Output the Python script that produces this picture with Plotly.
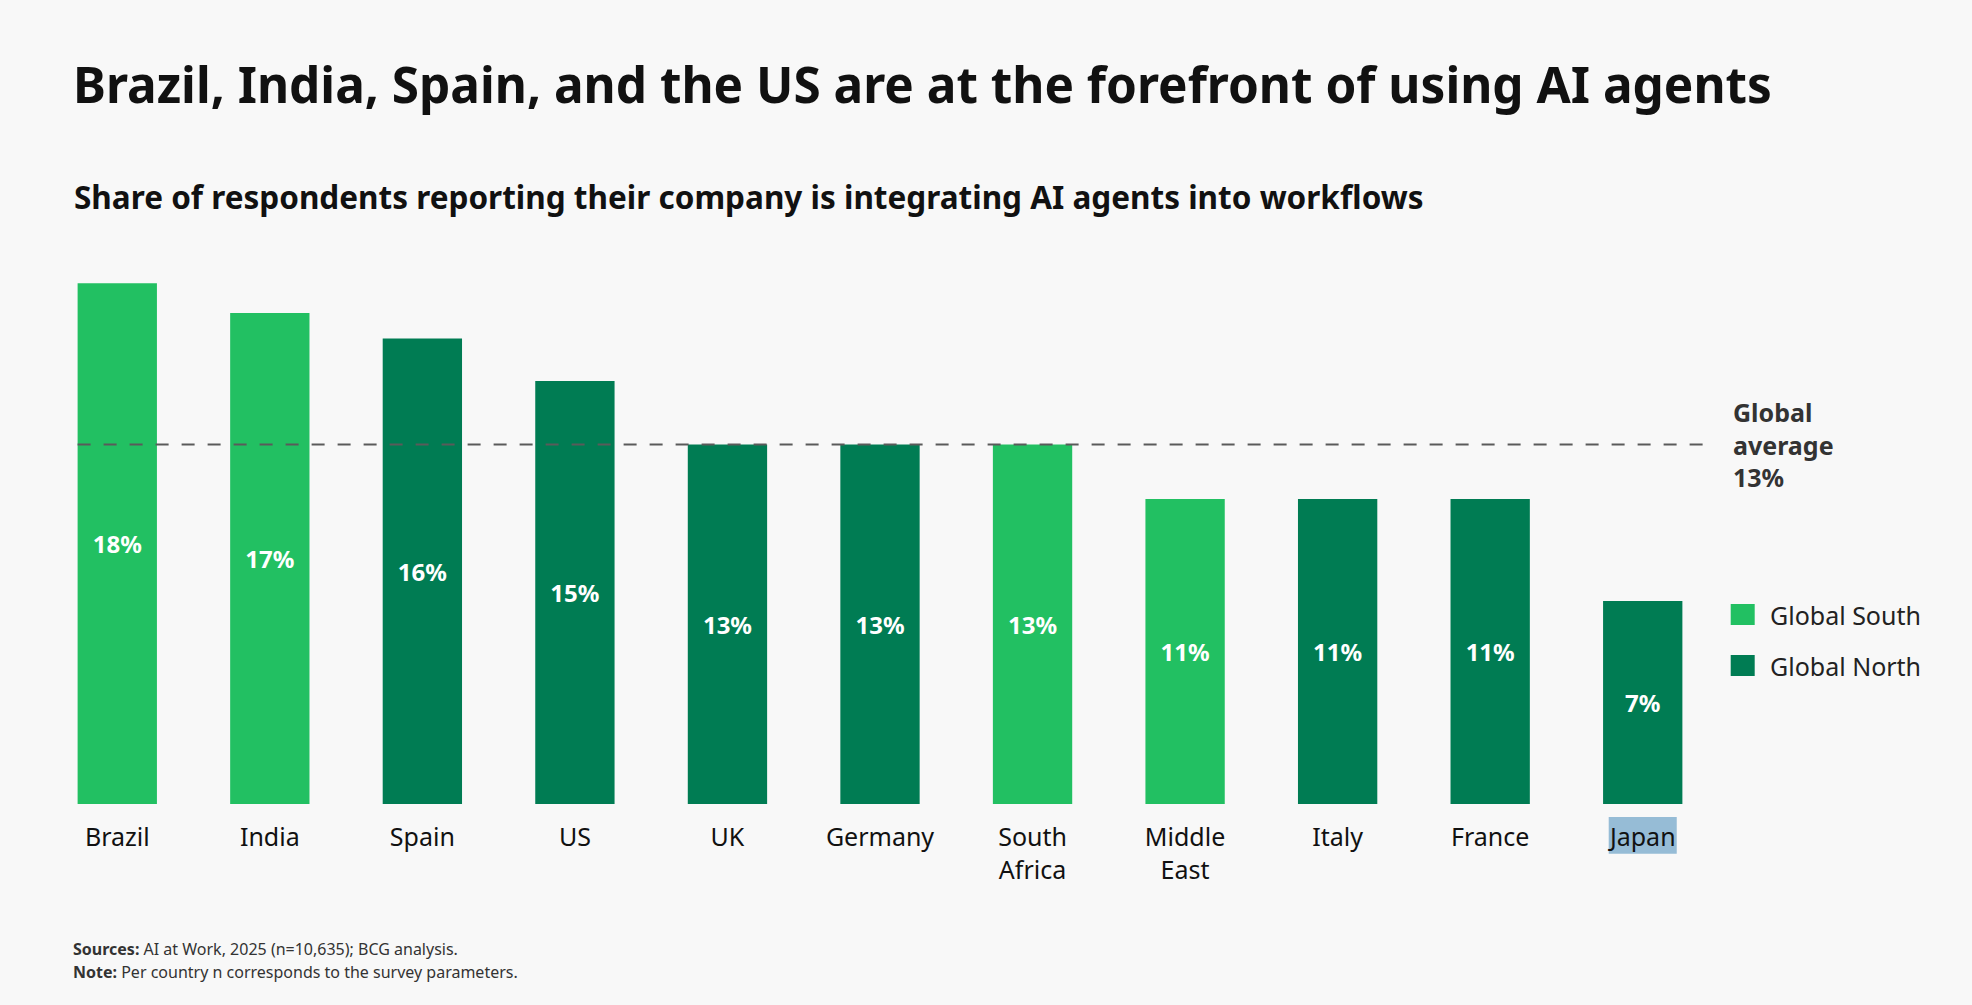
import plotly.graph_objects as go

# chart data
countries = ["Brazil", "India", "Spain", "US", "UK", "Germany", "South<br>Africa",
             "Middle<br>East", "Italy", "France", "Japan"]
share = [18.4, 17.35, 16.45, 14.95, 12.7, 12.7, 12.7, 10.78, 10.78, 10.78, 7.17]
region = ["Global South", "Global South", "Global North", "Global North", "Global North",
          "Global North", "Global South", "Global South", "Global North", "Global North",
          "Global North"]
global_avg = 12.7
avg_label = "Global<br>average<br>13%"
groups = ["Global South", "Global North"]

FONT = "Noto Sans"
BG = "#F8F8F8"
colors = {"Global South": "#22C062", "Global North": "#007C53"}

fig = go.Figure()

fig.add_trace(go.Bar(
    x=countries,
    y=share,
    marker=dict(color=[colors[r] for r in region], line=dict(width=0)),
    text=[f"{round(v)}%" for v in share],
    textposition="inside",
    insidetextanchor="middle",
    textangle=0,
    constraintext="none",
    textfont=dict(family=FONT, size=24, color="white", weight="bold"),
    showlegend=False,
    hoverinfo="skip",
))

# dashed global average line
fig.add_shape(type="line", xref="x", yref="y", x0=-0.26, x1=10.41,
              y0=global_avg, y1=global_avg, layer="above",
              line=dict(color="#5A5A5A", width=2, dash="13px,13px"))

fig.add_annotation(xref="paper", yref="y", x=(1731 - 41.3) / 1678, y=global_avg,
                   text=avg_label, showarrow=False, align="left",
                   xanchor="left", yanchor="middle",
                   font=dict(family=FONT, size=25, color="#333333", weight="bold"))

# legend drawn by hand so the swatches can be large
for i, g in enumerate(groups):
    yc = (804 - (614.5 + 51 * i)) / 566
    fig.add_shape(type="rect", xref="paper", yref="paper",
                  x0=(1731 - 41.3) / 1678, x1=(1755 - 41.3) / 1678,
                  y0=yc - 10.5 / 566, y1=yc + 10.5 / 566,
                  fillcolor=colors[g], line=dict(width=0))
    fig.add_annotation(xref="paper", yref="paper", x=(1768 - 41.3) / 1678, y=yc,
                       text=g, showarrow=False, xanchor="left", yanchor="middle",
                       font=dict(family=FONT, size=25, color="#222222"))

# the blue selection highlight behind "Japan"
fig.add_shape(type="rect", xref="x", yref="paper", x0=9.777, x1=10.223,
              y0=-0.088, y1=-0.023, fillcolor="#96BCD6", line=dict(width=0),
              layer="below")

# subtitle and footnotes
fig.add_annotation(xref="paper", yref="paper", x=(72 - 41.3) / 1678, y=(804 - 197) / 566,
                   text="Share of respondents reporting their company is integrating AI agents into workflows",
                   showarrow=False, xanchor="left", yanchor="middle",
                   font=dict(family=FONT, size=31.5, color="#111111", weight="bold"))
fig.add_annotation(xref="paper", yref="paper", x=(71 - 41.3) / 1678, y=(804 - 949) / 566,
                   text="<b>Sources:</b> AI at Work, 2025 (n=10,635); BCG analysis.",
                   showarrow=False, xanchor="left", yanchor="middle",
                   font=dict(family=FONT, size=16, color="#333333"))
fig.add_annotation(xref="paper", yref="paper", x=(71 - 41.3) / 1678, y=(804 - 972) / 566,
                   text="<b>Note:</b> Per country n corresponds to the survey parameters.",
                   showarrow=False, xanchor="left", yanchor="middle",
                   font=dict(family=FONT, size=16, color="#333333"))

fig.update_layout(
    width=1972, height=1005,
    margin=dict(l=41.3, r=1972 - 1719.3, t=238, b=201),
    paper_bgcolor=BG, plot_bgcolor=BG,
    bargap=0.48,
    title=dict(text="Brazil, India, Spain, and the US are at the forefront of using AI agents",
               x=73 / 1972, xanchor="left", y=1 - 86 / 1005, yanchor="middle",
               font=dict(family=FONT, size=49.5, color="#111111", weight="bold")),
    xaxis=dict(type="category", categoryorder="array", categoryarray=countries,
               range=[-0.5, 10.5], showgrid=False, showline=False, zeroline=False,
               ticks="", ticklabelstandoff=16,
               tickfont=dict(family=FONT, size=25, color="#111111")),
    yaxis=dict(range=[0, 20], visible=False, showgrid=False, zeroline=False),
)

# drop the browser's default page margin so the figure fills the window
fig.write_html("out.html", config={"displayModeBar": False},
               post_script="document.body.style.margin = '0px';")
